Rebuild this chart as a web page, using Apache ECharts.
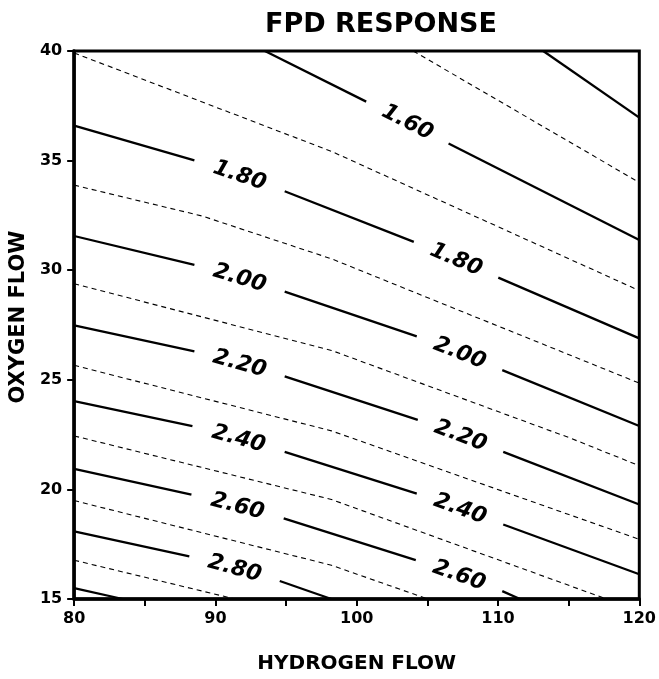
<!DOCTYPE html>
<html><head><meta charset="utf-8">
<script src="https://cdn.jsdelivr.net/npm/echarts@6/dist/echarts.min.js"></script>
<style>html,body{margin:0;padding:0;background:#fff}#c{width:659px;height:679px}</style>
</head><body><div id="c"></div>
<script>
const chartTitle = 'FPD RESPONSE';
const xName = 'HYDROGEN FLOW';
const yName = 'OXYGEN FLOW';
const xTickLabels = [80, 90, 100, 110, 120];
const yTickLabels = [15, 20, 25, 30, 35, 40];

// Contour lines [hydrogen, oxygen]; each contour is a list of segments (label gaps between segments)
const c140 = [[[113.2, 40], [120, 36.96]]];
const c150 = [[[104.0, 40], [120, 34.0]]];
const c160 = [[[93.5, 40], [100.67, 37.69]], [[106.5, 35.78], [120, 31.38]]];
const c170 = [[[80, 39.91], [98.21, 35.42], [120, 29.07]]];
const c180 = [[[80, 36.6], [88.51, 35.01]], [[94.9, 33.6], [104.04, 31.29]], [[110.02, 29.66], [120, 26.89]]];
const c190 = [[[80, 33.88], [89.07, 32.47], [98.21, 30.52], [120, 24.85]]];
const c200 = [[[80, 31.56], [88.51, 30.24]], [[94.9, 29.02], [104.25, 26.98]], [[110.3, 25.44], [120, 22.89]]];
const c210 = [[[80, 29.38], [98.21, 26.34], [115.08, 22.35], [120, 21.08]]];
const c220 = [[[80, 27.48], [88.51, 26.30]], [[94.9, 25.16], [104.32, 23.17]], [[110.37, 21.71], [120, 19.31]]];
const c230 = [[[80, 25.66], [98.21, 22.67], [120, 17.72]]];
const c240 = [[[80, 24.03], [88.37, 22.89]], [[94.9, 21.71], [104.25, 19.81]], [[110.37, 18.40], [120, 16.13]]];
const c250 = [[[80, 22.44], [98.21, 19.54], [117.68, 15]]];
const c260 = [[[80, 20.94], [88.3, 19.76]], [[94.83, 18.68], [104.18, 16.77]], [[110.3, 15.36], [111.56, 15]]];
const c270 = [[[80, 19.49], [98.21, 16.54], [105.03, 15]]];
const c280 = [[[80, 18.09], [88.15, 16.95]], [[94.55, 15.82], [98.21, 15]]];
const c290 = [[[80, 16.77], [91.39, 15]]];
const c300 = [[[80, 15.5], [83.44, 15]]];

const solidLevels = [1.4, 1.6, 1.8, 2.0, 2.2, 2.4, 2.6, 2.8, 3.0];
const solidLines = [c140, c160, c180, c200, c220, c240, c260, c280, c300];
const dashedLevels = [1.5, 1.7, 1.9, 2.1, 2.3, 2.5, 2.7, 2.9];
const dashedLines = [c150, c170, c190, c210, c230, c250, c270, c290];

const FONT = 'DejaVu Sans';
const chart = echarts.init(document.getElementById('c'), null, {renderer: 'canvas'});

function lineSeries() {
  const out = [];
  solidLines.forEach(segs => segs.forEach(seg => out.push({
    type: 'line', data: seg, symbol: 'none', silent: true, animation: false, z: 3,
    lineStyle: {color: '#000', width: 2.3, type: 'solid', opacity: 1}
  })));
  dashedLines.forEach(segs => segs.forEach(seg => out.push({
    type: 'line', data: seg, symbol: 'none', silent: true, animation: false, z: 2,
    lineStyle: {color: '#000', width: 1.1, type: [5, 4], opacity: 1}
  })));
  return out;
}

const baseOption = {
  animation: false,
  backgroundColor: '#fff',
  title: {
    text: chartTitle, left: 376, top: 6, textAlign: 'center',
    textStyle: {fontFamily: FONT, fontWeight: 'bold', fontSize: 27, color: '#000'}
  },
  grid: {left: 71, right: 19, top: 51, bottom: 77, show: true, borderColor: '#000', borderWidth: 3},
  xAxis: {
    type: 'value', min: 80, max: 120, interval: 5,
    name: xName, nameLocation: 'middle', nameGap: 55,
    nameTextStyle: {fontFamily: FONT, fontWeight: 'bold', fontSize: 20, color: '#000'},
    axisLine: {show: true, onZero: false, lineStyle: {color: '#000', width: 3.5}},
    axisTick: {show: true, length: 7, lineStyle: {color: '#000', width: 2}},
    axisLabel: {
      formatter: v => xTickLabels.includes(v) ? String(v) : '',
      fontFamily: FONT, fontWeight: 'bold', fontSize: 16, color: '#000', margin: 12
    },
    splitLine: {show: false}
  },
  yAxis: {
    type: 'value', min: 15, max: 40, interval: 5,
    name: yName, nameLocation: 'middle', nameGap: 38,
    nameTextStyle: {fontFamily: FONT, fontWeight: 'bold', fontSize: 21, color: '#000', padding: [0, 0, 0, 16]},
    axisLine: {show: true, onZero: false, lineStyle: {color: '#000', width: 3.5}},
    axisTick: {show: true, length: 7, lineStyle: {color: '#000', width: 2}},
    axisLabel: {
      formatter: v => yTickLabels.includes(v) ? String(v) : '',
      fontFamily: FONT, fontWeight: 'bold', fontSize: 16, color: '#000', margin: 12
    },
    splitLine: {show: false}
  },
  series: lineSeries()
};
chart.setOption(baseOption);

// labels sit in the gaps of the solid contours, rotated along the local direction
const labelData = [];
solidLines.forEach((segs, i) => {
  for (let k = 0; k + 1 < segs.length; k++) {
    const a = segs[k][segs[k].length - 1];
    const b = segs[k + 1][0];
    const pa = chart.convertToPixel({gridIndex: 0}, a);
    const pb = chart.convertToPixel({gridIndex: 0}, b);
    const ang = -Math.atan2(pb[1] - pa[1], pb[0] - pa[0]) * 180 / Math.PI;
    labelData.push({
      name: solidLevels[i].toFixed(2),
      value: [(a[0] + b[0]) / 2, (a[1] + b[1]) / 2],
      label: {rotate: ang}
    });
  }
});

const series = lineSeries();
series.push({
  type: 'scatter', data: labelData, symbolSize: 0, silent: true, animation: false, z: 5,
  itemStyle: {opacity: 1, color: '#000'},
  label: {
    show: true, position: 'inside', formatter: '{b}', opacity: 1,
    textBorderWidth: 0, textBorderColor: 'transparent',
    fontFamily: FONT, fontWeight: 'bold', fontStyle: 'italic', fontSize: 22, color: '#000'
  }
});
chart.setOption({series: series});
</script>
</body></html>
